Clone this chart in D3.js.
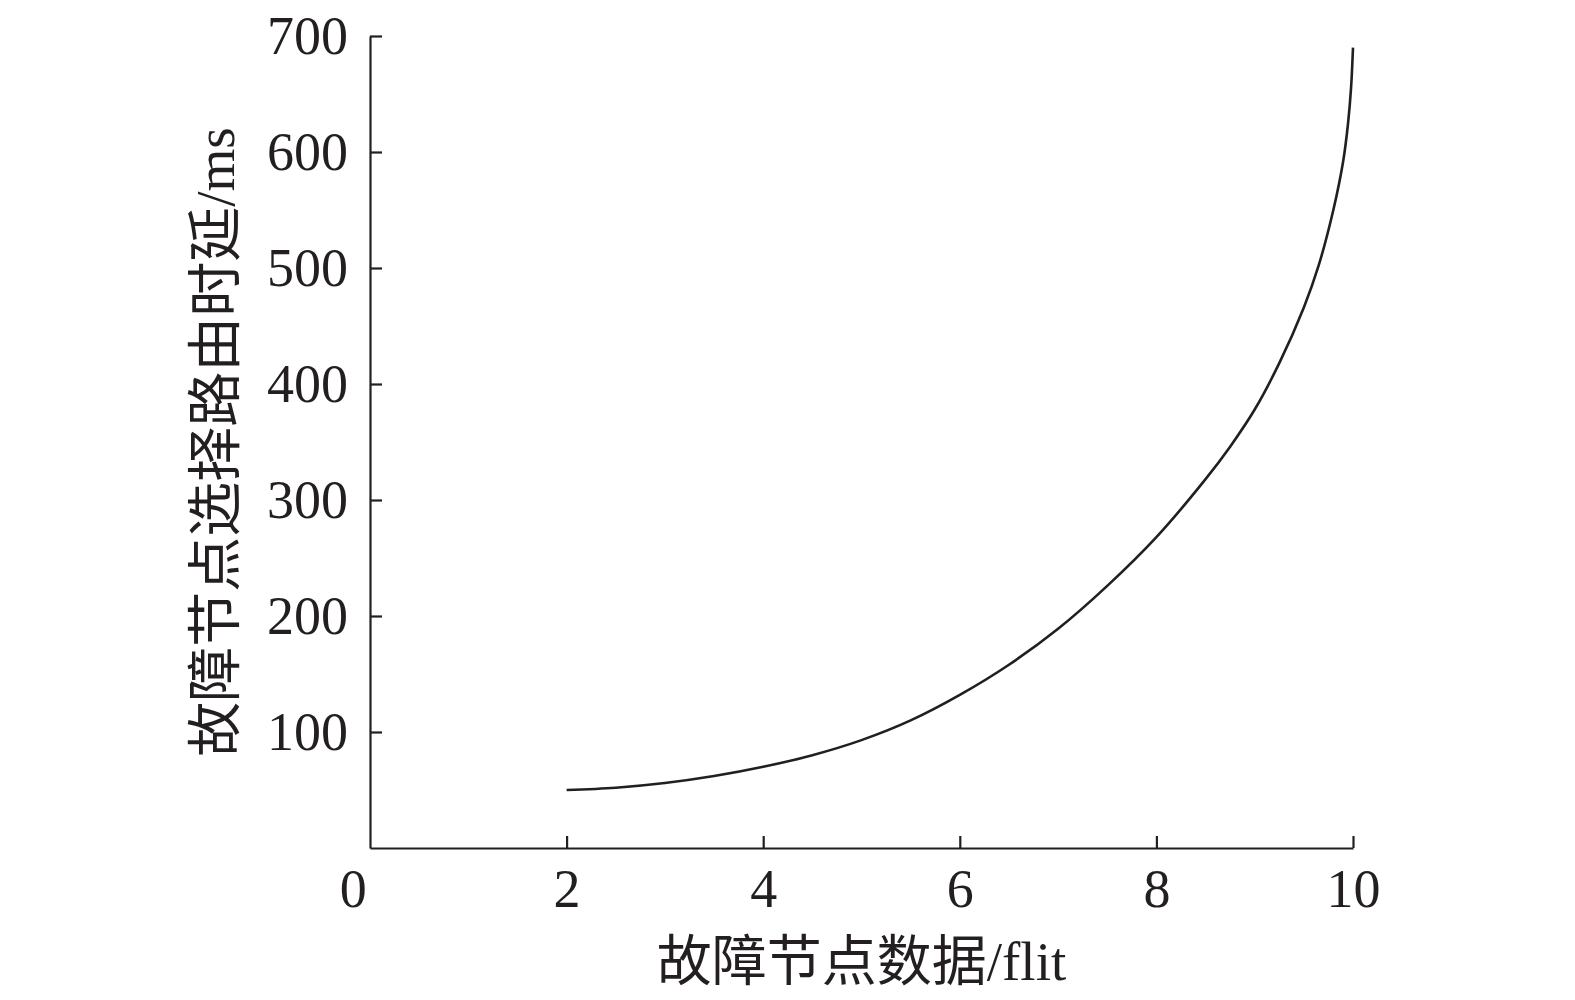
<!DOCTYPE html>
<html>
<head>
<meta charset="utf-8">
<script src="https://cdn.jsdelivr.net/npm/d3@7"></script>
<style>
  body { margin: 0; background: #fff; }
  svg { display: block; }
  .axis path, .axis line { stroke: #231f20; stroke-width: 2.2; }
  .axis text { font-family: "Liberation Serif", "Times New Roman", serif; font-size: 54px; fill: #231f20; }
  .label { font-family: "Liberation Serif", "Noto Sans CJK SC", serif; font-size: 55px; fill: #231f20; }
  .curve { fill: none; stroke: #231f20; stroke-width: 2.6; }
</style>
</head>
<body>
<svg width="1575" height="1000"></svg>
<script>
// fault node data (flit) vs routing delay (ms)
var flits  = [2, 2.5, 3, 3.5, 4, 4.5, 5, 5.5, 6, 6.5, 7, 7.5, 8, 8.5, 8.75, 9, 9.25, 9.5, 9.65, 9.8, 9.9, 9.95, 9.98, 10];
var delays = [50, 52, 56, 62, 70, 80, 93, 110, 132, 158, 189, 226, 268, 318, 346, 378, 418, 466, 502, 550, 592, 625, 655, 690];

var xTicks = [0, 2, 4, 6, 8, 10];
var yTicks = [100, 200, 300, 400, 500, 600, 700];
var xTitle = "故障节点数据/flit";
var yTitle = "故障节点选择路由时延/ms";

var data = flits.map(function(f, i) { return {flit: f, delay: delays[i]}; });

var svg = d3.select("svg"),
    margin = {top: 36, right: 222, bottom: 152, left: 370},
    width = +svg.attr("width") - margin.left - margin.right,
    height = +svg.attr("height") - margin.top - margin.bottom,
    g = svg.append("g").attr("transform", "translate(" + margin.left + "," + margin.top + ")");

var x = d3.scaleLinear()
    .domain([0, 10])
    .range([0, width]);

var y = d3.scaleLinear()
    .domain([0, 700])
    .range([height, 0]);

g.append("g")
    .attr("class", "axis axis--x")
    .attr("transform", "translate(0," + height + ")")
    .call(d3.axisBottom(x).tickValues(xTicks).tickSizeInner(-12).tickSizeOuter(0).tickPadding(21));

g.append("g")
    .attr("class", "axis axis--y")
    .call(d3.axisLeft(y).tickValues(yTicks).tickSizeInner(-12).tickSizeOuter(0).tickPadding(22));

// the 0 sits on the y axis: no tick mark, label nudged left like the original
var zeroTick = g.selectAll(".axis--x .tick").filter(function(d) { return d === 0; });
zeroTick.select("line").remove();
zeroTick.select("text").attr("dx", "-0.32em");

var line = d3.line()
    .curve(d3.curveCatmullRom.alpha(0.5))
    .x(function(d) { return x(d.flit); })
    .y(function(d) { return y(d.delay); });

g.append("path")
    .datum(data)
    .attr("class", "curve")
    .attr("d", line);

g.append("text")
    .attr("class", "label")
    .attr("x", width / 2)
    .attr("y", height + 132)
    .attr("text-anchor", "middle")
    .text(xTitle);

g.append("text")
    .attr("class", "label")
    .attr("transform", "rotate(-90)")
    .attr("x", -height / 2)
    .attr("y", -136)
    .attr("text-anchor", "middle")
    .text(yTitle);
</script>
</body>
</html>
